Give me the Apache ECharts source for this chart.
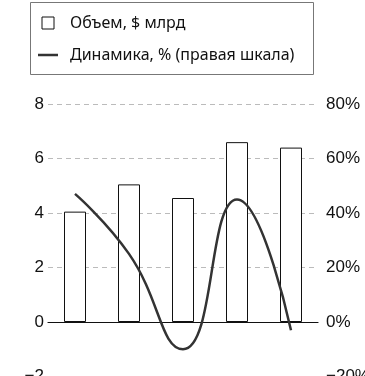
<!DOCTYPE html>
<html>
<head>
<meta charset="utf-8">
<script src="https://cdn.jsdelivr.net/npm/echarts@6/dist/echarts.min.js"></script>
<style>
  html, body { margin: 0; padding: 0; background: #fff; }
  #chart { width: 365px; height: 376px; }
</style>
</head>
<body>
<div id="chart"></div>
<script>
// Годовые данные: объём (левая шкала) и динамика (правая шкала)
const categories = ['1', '2', '3', '4', '5'];
const volume = [4.05, 5.05, 4.55, 6.6, 6.4];
const growth = [47, 25, -10, 45, -3];
const leftTicks = { min: -2, max: 8, step: 2 };
const rightTicks = { min: -20, max: 80, step: 20 };
const volumeName = 'Объем, $ млрд';
const growthName = 'Динамика, % (правая шкала)';

const minus = v => String(v).replace('-', '\u2212');
const axisFont = { fontFamily: 'Liberation Sans', fontSize: 17, color: '#111' };
const dashed = { show: true, lineStyle: { color: '#bbb', type: [5, 4], width: 1 } };

const chart = echarts.init(document.getElementById('chart'), null, { renderer: 'canvas' });
chart.setOption({
  animation: false,
  graphic: [{
    type: 'rect',
    shape: { x: 30.5, y: 2.5, width: 283, height: 72 },
    style: { fill: '#fff', stroke: '#777', lineWidth: 1 },
    z: -1
  }],
  legend: {
    orient: 'vertical',
    left: 38,
    top: 13,
    padding: 0,
    itemGap: 12,
    itemWidth: 20,
    itemHeight: 12,
    textStyle: { fontFamily: 'Noto Sans', fontSize: 16, color: '#111', lineHeight: 20, padding: [0, 0, 0, 7] },
    data: [
      { name: volumeName, icon: 'path://M0,0H12V12H0Z', itemStyle: { color: '#fff', borderColor: '#111', borderWidth: 1 } },
      { name: growthName, icon: 'path://M0,0H20V2.5H0Z', itemStyle: { color: '#333', borderWidth: 0 } }
    ]
  },
  grid: { left: 48, right: 47, top: 104, height: 272.5, outerBoundsMode: 'none', containLabel: false },
  xAxis: {
    type: 'category',
    data: categories,
    axisLine: { onZero: true, lineStyle: { color: '#111', width: 1.2 } },
    axisTick: { show: false },
    axisLabel: { show: false }
  },
  yAxis: [{
    type: 'value',
    min: leftTicks.min, max: leftTicks.max, interval: leftTicks.step,
    axisLine: { show: false }, axisTick: { show: false },
    axisLabel: Object.assign({ margin: 4, formatter: v => minus(v) }, axisFont),
    splitLine: dashed
  }, {
    type: 'value',
    min: rightTicks.min, max: rightTicks.max, interval: rightTicks.step,
    axisLine: { show: false }, axisTick: { show: false },
    axisLabel: Object.assign({ margin: 8, formatter: v => minus(v) + '%' }, axisFont),
    splitLine: { show: false }
  }],
  series: [{
    name: volumeName,
    type: 'bar',
    data: volume,
    barWidth: 22,
    itemStyle: { color: '#fff', borderColor: '#111', borderWidth: 1 },
    z: 2
  }, {
    name: growthName,
    type: 'line',
    yAxisIndex: 1,
    data: growth,
    smooth: 0.5,
    symbol: 'none',
    lineStyle: { color: '#333', width: 2.5 },
    itemStyle: { color: '#333' },
    z: 3
  }]
});
</script>
</body>
</html>
